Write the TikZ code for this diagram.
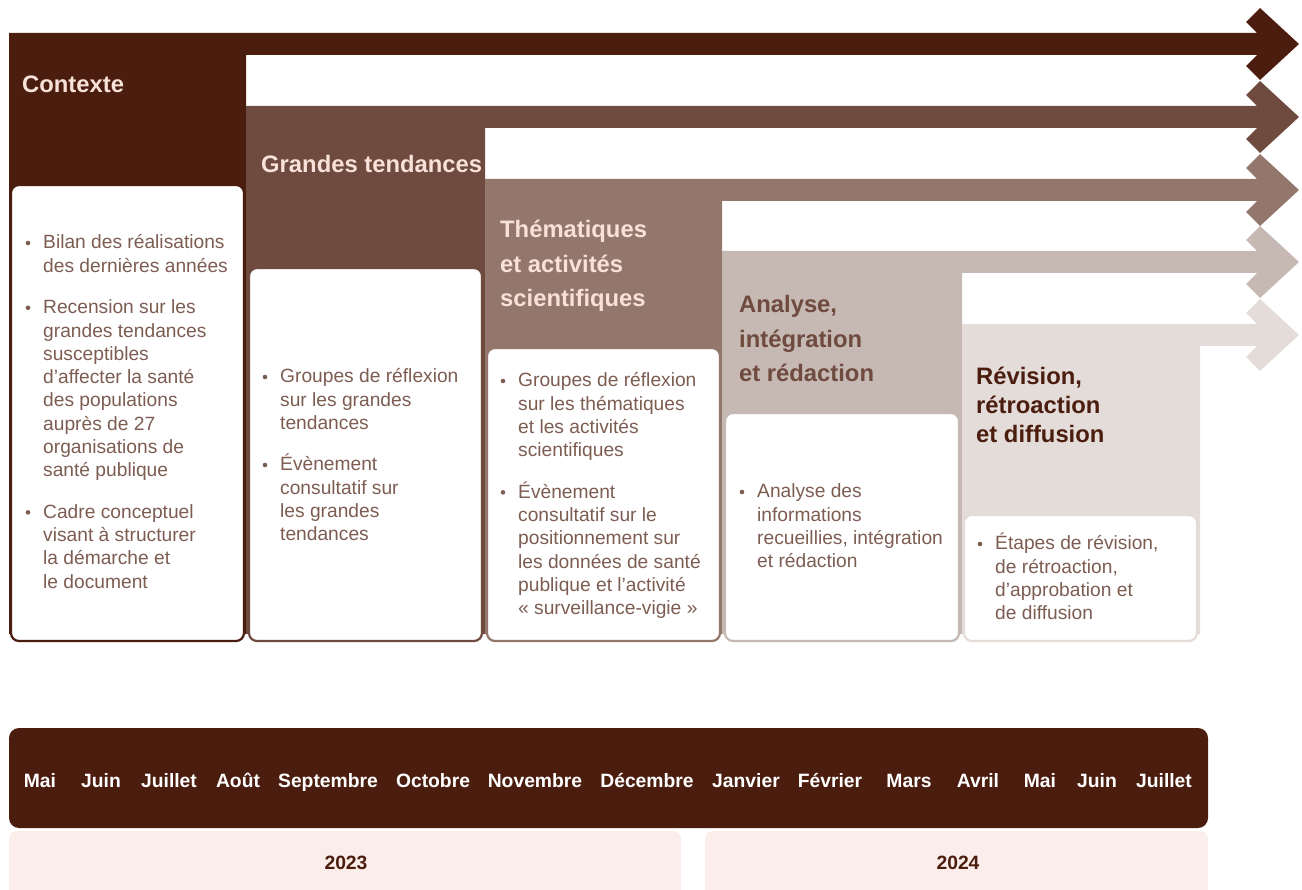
\documentclass[tikz,border=0pt]{standalone}
\usepackage{fontspec}
\setmainfont{Liberation Sans}
\definecolor{cA}{HTML}{4B1D0F}
\definecolor{cB}{HTML}{6F4A3E}
\definecolor{cC}{HTML}{93766C}
\definecolor{cD}{HTML}{C6B8B3}
\definecolor{cE}{HTML}{E4DCD9}
\definecolor{pinkhead}{HTML}{F8E1D8}
\definecolor{bodytxt}{HTML}{7D5D52}
\definecolor{yearbg}{HTML}{FBEDEA}
\newcommand\stagearrow[4]{% colour, x left, x right, top
  \fill[#1] (#2,#4) -- (1257,#4) -- (1246,#4-11) -- (1260,#4-25) -- (1299,#4+11)
    -- (1260,#4+47) -- (1246,#4+33) -- (1257,#4+22) -- (#3,#4+22) -- (#3,634) -- (#2,634) -- cycle;}
\tikzset{
  stagehead/.style={anchor=base west, inner sep=0pt, font=\fontsize{23.8}{34.5}\selectfont\bfseries},
  bodytext/.style={anchor=base west, inner sep=0pt, text=bodytxt, font=\fontsize{19.2}{23.3}\selectfont},
  bulletdot/.style={circle, fill=bodytxt, inner sep=0pt, minimum size=4.6pt},
  monthlbl/.style={anchor=base, inner sep=0pt, text=white, font=\fontsize{19.3}{23}\selectfont\bfseries},
  yearlbl/.style={anchor=base, inner sep=0pt, text=cA, font=\fontsize{19.3}{23}\selectfont\bfseries},
  card/.style={fill=white, rounded corners=8pt, line width=2.2pt},
}
\newcommand\para[1]{\parbox[t]{230pt}{\raggedright #1}}
\begin{document}
\begin{tikzpicture}[x=1pt,y=-1pt]
\useasboundingbox (0,0) rectangle (1302,890);
% stages
\stagearrow{cA}{9}{246}{33}
\stagearrow{cB}{246}{485}{106}
\stagearrow{cC}{485}{722}{179}
\stagearrow{cD}{722}{962}{251}
\stagearrow{cE}{962}{1200}{324}
% cards
\draw[card, draw=cA] (11,185) rectangle (244,641);
\draw[card, draw=cB] (249,268) rectangle (482,641);
\draw[card, draw=cC] (487,348) rectangle (720,641);
\draw[card, draw=cD] (725,413) rectangle (959,641);
\draw[card, draw=cE] (964,515) rectangle (1197,641);
% headings
\node[stagehead, text=pinkhead] (h1) at (22,93) {Contexte};
\node[stagehead, text=pinkhead] (h2) at (261,173) {Grandes tendances};
\node[stagehead, text=pinkhead] (h3) at (500,238) {\parbox[t]{220pt}{Thématiques\\et activités\\scientifiques}};
\node[stagehead, text=cB] (h4) at (739,313) {\parbox[t]{220pt}{Analyse,\\intégration\\et rédaction}};
\node[stagehead, text=cA] (h5) at (976,385) {\parbox[t]{220pt}{\fontsize{23.8}{29}\selectfont Révision,\\rétroaction\\et diffusion}};
% card 1
\node[bulletdot] (d1a) at (28,243) {};
\node[bodytext] (t1a) at (43,249) {\para{Bilan des réalisations\\des dernières années}};
\node[bulletdot] (d1b) at (28,307.8) {};
\node[bodytext] (t1b) at (43,313.8) {\para{Recension sur les\\grandes tendances\\susceptibles\\d’affecter la santé\\des populations\\auprès de 27\\organisations de\\santé publique}};
\node[bulletdot] (d1c) at (28,512.4) {};
\node[bodytext] (t1c) at (43,518.4) {\para{Cadre conceptuel\\visant à structurer\\la démarche et\\le document}};
% card 2
\node[bulletdot] (d2a) at (265,377) {};
\node[bodytext] (t2a) at (280,383) {\para{Groupes de réflexion\\sur les grandes\\tendances}};
\node[bulletdot] (d2b) at (265,465) {};
\node[bodytext] (t2b) at (280,471) {\para{Évènement\\consultatif sur\\les grandes\\tendances}};
% card 3
\node[bulletdot] (d3a) at (503,381) {};
\node[bodytext] (t3a) at (518,387) {\para{Groupes de réflexion\\sur les thématiques\\et les activités\\scientifiques}};
\node[bulletdot] (d3b) at (503,492.4) {};
\node[bodytext] (t3b) at (518,498.4) {\para{Évènement\\consultatif sur le\\positionnement sur\\les données de santé\\publique et l’activité\\«~surveillance-vigie~»}};
% card 4
\node[bulletdot] (d4a) at (742,492) {};
\node[bodytext] (t4a) at (757,498) {\para{Analyse des\\informations\\recueillies, intégration\\et rédaction}};
% card 5
\node[bulletdot] (d5a) at (980,544) {};
\node[bodytext] (t5a) at (995,550) {\para{Étapes de révision,\\de rétroaction,\\d’approbation et\\de diffusion}};
% timeline
\fill[cA, rounded corners=10pt] (9,728) rectangle (1208,828);
\begin{scope}
\clip (0,0) rectangle (1302,890);
\fill[yearbg, rounded corners=8pt] (9,831) rectangle (681,910);
\fill[yearbg, rounded corners=8pt] (705,831) rectangle (1208,910);
\end{scope}
\node[monthlbl] (m1) at (40,787) {Mai};
\node[monthlbl] (m2) at (101,787) {Juin};
\node[monthlbl] (m3) at (169,787) {Juillet};
\node[monthlbl] (m4) at (238,787) {Août};
\node[monthlbl] (m5) at (328,787) {Septembre};
\node[monthlbl] (m6) at (433,787) {Octobre};
\node[monthlbl] (m7) at (535,787) {Novembre};
\node[monthlbl] (m8) at (647,787) {Décembre};
\node[monthlbl] (m9) at (746,787) {Janvier};
\node[monthlbl] (m10) at (830,787) {Février};
\node[monthlbl] (m11) at (909,787) {Mars};
\node[monthlbl] (m12) at (978,787) {Avril};
\node[monthlbl] (m13) at (1040,787) {Mai};
\node[monthlbl] (m14) at (1097,787) {Juin};
\node[monthlbl] (m15) at (1164,787) {Juillet};
\node[yearlbl] (y1) at (346,869) {2023};
\node[yearlbl] (y2) at (958,869) {2024};
\end{tikzpicture}
\end{document}
